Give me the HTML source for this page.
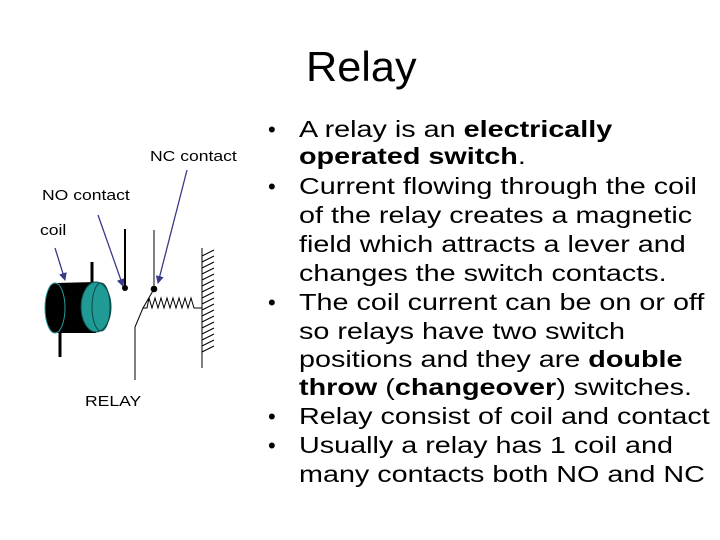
<!DOCTYPE html>
<html><head><meta charset="utf-8"><style>
body{margin:0;width:720px;height:540px;background:#fff;position:relative;overflow:hidden;font-family:"Liberation Sans",Arial,sans-serif;}
.t{position:absolute;font-size:42px;left:306px;top:43px;transform:scaleX(1.03);transform-origin:left;}
.l{position:absolute;left:299px;font-size:23px;line-height:29px;white-space:nowrap;color:#000;transform:scaleX(1.25);transform-origin:left;}
.b{position:absolute;left:268px;font-size:22px;line-height:29px;}
.s{position:absolute;font-size:15px;white-space:nowrap;transform:scaleX(1.17);transform-origin:left;}
</style></head><body>
<div class="t">Relay</div>

<div class="b" style="top:115px">•</div>
<div class="l" style="top:115px">A relay is an <b>electrically</b></div>
<div class="l" style="top:142px"><b>operated switch</b>.</div>
<div class="b" style="top:172px">•</div>
<div class="l" style="top:172px">Current flowing through the coil</div>
<div class="l" style="top:201px">of the relay creates a magnetic</div>
<div class="l" style="top:230px">field which attracts a lever and</div>
<div class="l" style="top:259px">changes the switch contacts.</div>
<div class="b" style="top:288px">•</div>
<div class="l" style="top:288px">The coil current can be on or off</div>
<div class="l" style="top:317px">so relays have two switch</div>
<div class="l" style="top:345px">positions and they are <b>double</b></div>
<div class="l" style="top:373px"><b>throw</b> (<b>changeover</b>) switches.</div>
<div class="b" style="top:402px">•</div>
<div class="l" style="top:402px">Relay consist of coil and contact</div>
<div class="b" style="top:431px">•</div>
<div class="l" style="top:431px">Usually a relay has 1 coil and</div>
<div class="l" style="top:460px">many contacts both NO and NC</div>

<div class="s" style="left:150px;top:148px">NC contact</div>
<div class="s" style="left:42px;top:187px">NO contact</div>
<div class="s" style="left:40px;top:222px">coil</div>
<div class="s" style="left:85px;top:393px">RELAY</div>

<svg width="720" height="540" style="position:absolute;left:0;top:0">
<defs><marker id="a" markerWidth="8" markerHeight="8" refX="7" refY="4" orient="auto" markerUnits="userSpaceOnUse"><path d="M0,0L8,4L0,8z" fill="#3a3a8a"/></marker></defs>
<g stroke="#3a3a8a" stroke-width="1.3" fill="none" marker-end="url(#a)">
<line x1="55" y1="248" x2="65" y2="280"/>
<line x1="98" y1="215" x2="123" y2="286"/>
<line x1="187" y1="170" x2="158" y2="283"/>
</g>
<line x1="92" y1="262" x2="92" y2="282" stroke="#000" stroke-width="3"/>
<line x1="60" y1="330" x2="60" y2="357" stroke="#000" stroke-width="3"/>
<path d="M55,283 L96,282 L96,333 L55,333 Z" fill="#000"/>
<ellipse cx="55" cy="308" rx="10" ry="25" fill="#000" stroke="#2a9a9a" stroke-width="1"/>
<ellipse cx="96" cy="307" rx="15" ry="25" fill="#1f9a95" stroke="#0a4a4a"/>
<ellipse cx="101" cy="307" rx="9" ry="24" fill="none" stroke="#0a4a4a"/>
<line x1="125" y1="229" x2="125" y2="288" stroke="#000" stroke-width="2"/>
<circle cx="125" cy="288" r="3" fill="#000"/>
<line x1="154" y1="230" x2="154" y2="289" stroke="#000" stroke-width="1"/>
<circle cx="154" cy="289" r="3.3" fill="#000"/>
<polyline points="154,289 143,308 135,327 135,380" fill="none" stroke="#000"/>
<polyline points="143,308 147,308 149,298 152,308 155,298 158,308 161,298 164,308 167,298 170,308 173,298 176,308 179,298 182,308 185,298 188,308 191,298 194,308 202,308" fill="none" stroke="#000"/>
<line x1="202" y1="248" x2="202" y2="368" stroke="#000"/>
<g stroke="#000" stroke-width="1">
<path d="M202,256l12,-6M202,262l12,-6M202,268l12,-6M202,274l12,-6M202,280l12,-6M202,286l12,-6M202,292l12,-6M202,298l12,-6M202,304l12,-6M202,310l12,-6M202,316l12,-6M202,322l12,-6M202,328l12,-6M202,334l12,-6M202,340l12,-6M202,346l12,-6M202,352l12,-6"/>
</g>
</svg>
</body></html>
